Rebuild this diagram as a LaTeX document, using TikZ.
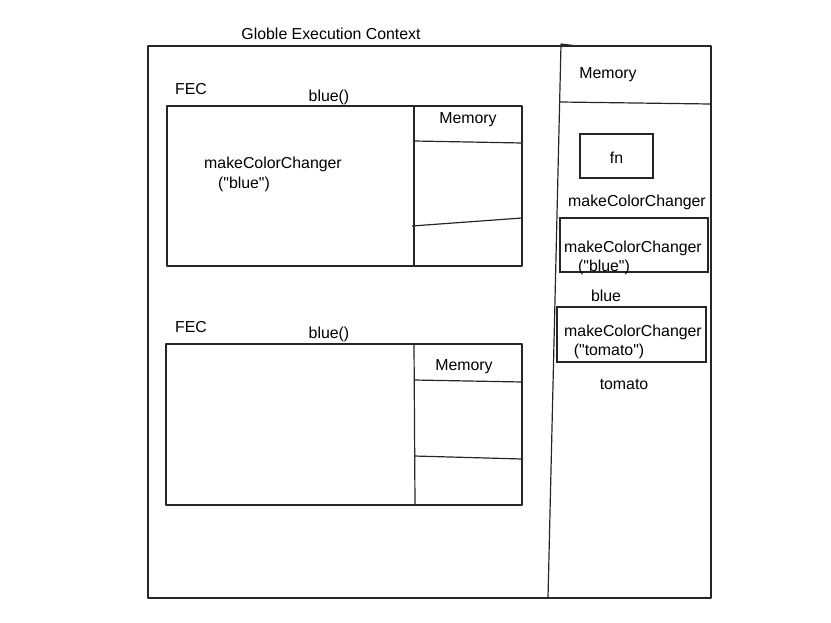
\documentclass[tikz,border=0pt]{standalone}
\usepackage{fontspec}
\setmainfont{Liberation Sans}[Ligatures=TeXOff]
\usetikzlibrary{positioning}

\begin{document}
\begin{tikzpicture}[x=0.75pt, y=-0.75pt, line width=0.9pt,
    sketch/.style={draw=black!85, line join=round},
    lbl/.style={inner sep=0pt, yshift=-1.5pt, font=\fontsize{11.9}{13}\selectfont}]
    \useasboundingbox (0,0) rectangle (831,623);

    % globle execution context
    \node[lbl] (gec) at (331,32) {Globle Execution Context};
    \coordinate (gec_tl) at (148,46);
    \coordinate (gec_br) at (711,598);
    \draw[sketch] (gec_tl) rectangle (gec_br);
    \coordinate (split_t) at (561,44);
    \coordinate (split_b) at (548,598);
    \draw[sketch] (split_t) -- (split_b);
    \draw[sketch] (split_t) -- (577,46);

    % global memory
    \node[lbl] (gmem) at (608,73) {Memory};
    \draw[sketch] (560,102) -- (710,104);
    \node[draw=black!85, minimum width=54.75pt, minimum height=33pt] (fn) at (616.5,156) {};
    \node[lbl] (fn_t) at (616.5,156) {fn};
    \node[lbl] (mcc) at (637,200) {makeColorChanger};
    \node[draw=black!85, minimum width=111pt, minimum height=40.5pt] (mccblue) at (634,245) {};
    \node[lbl] (mccblue_a) at (633,246) {makeColorChanger};
    \node[lbl] (mccblue_b) at (604,265) {("blue")};
    \node[lbl] (blue) at (606,294) {blue};
    \node[draw=black!85, minimum width=111.75pt, minimum height=41.25pt] (mcctom) at (631.5,334.5) {};
    \node[lbl] (mcctom_a) at (633,330) {makeColorChanger};
    \node[lbl] (mcctom_b) at (609,349) {("tomato")};
    \node[lbl] (tomato) at (624,382) {tomato};

    % first FEC
    \node[lbl] (fec1) at (191,87) {FEC};
    \node[lbl] (call1) at (329,95) {blue()};
    \draw[sketch] (167,106) rectangle (522,266);
    \draw[sketch] (414,106) -- (414,266);
    \node[lbl] (mem1) at (468,118) {Memory};
    \draw[sketch] (414,141) -- (522,143);
    \draw[sketch] (412,226) -- (522,218);
    \node[lbl] (body1a) at (273,162) {makeColorChanger};
    \node[lbl] (body1b) at (244,182) {("blue")};

    % second FEC
    \node[lbl] (fec2) at (191,325) {FEC};
    \node[lbl] (call2) at (329,332) {blue()};
    \draw[sketch] (166,344) rectangle (522,505);
    \draw[sketch] (414,344) -- (415,505);
    \node[lbl] (mem2) at (464,365) {Memory};
    \draw[sketch] (414,380) -- (522,382);
    \draw[sketch] (414,456) -- (522,459);
\end{tikzpicture}
\end{document}
